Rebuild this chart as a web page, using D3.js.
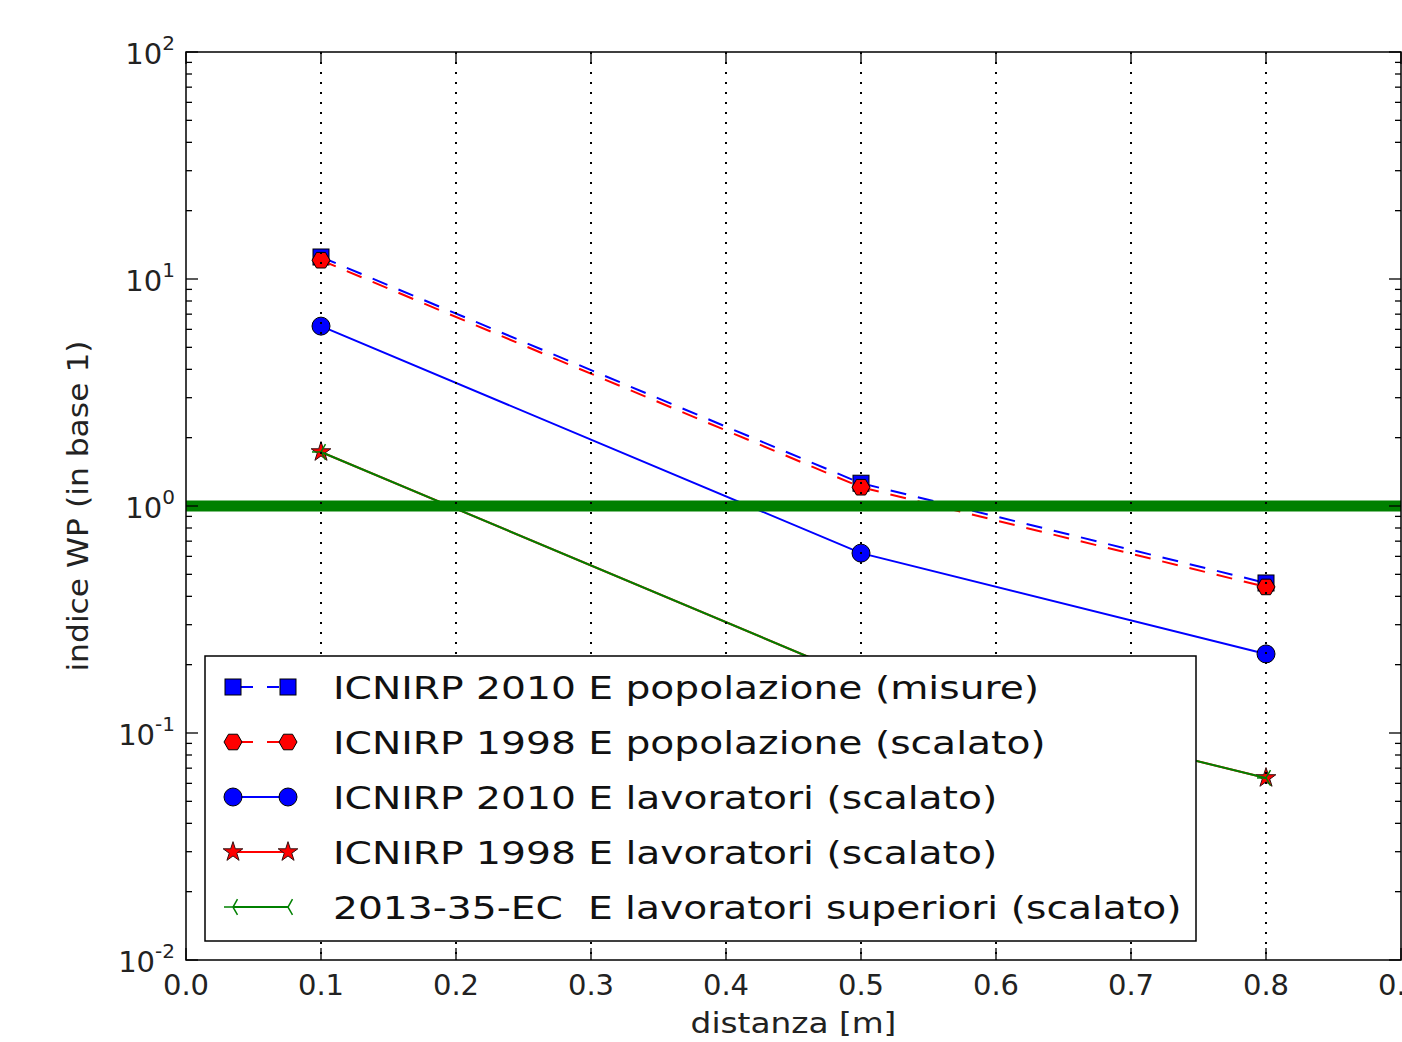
<!DOCTYPE html>
<html>
<head>
<meta charset="utf-8">
<script src="https://cdn.jsdelivr.net/npm/d3@7"></script>
<style>
  body { margin: 0; background: #fff; }
  svg { display: block; font-family: "DejaVu Sans", sans-serif; }
  text { white-space: pre; }
</style>
</head>
<body>
<svg id="chart" width="1402" height="1042"></svg>
<script>
// ---- data ----
const distances = [0.1, 0.5, 0.8];
const icnirp2010Pop = [12.5, 1.26, 0.458];
const icnirp1998Pop = [12.1, 1.21, 0.44];
const icnirp2010Lav = [6.2, 0.62, 0.223];
const icnirp1998Lav = [1.73, 0.173, 0.0634];
const ec2013Lav = [1.73, 0.173, 0.0634];
const xTicks = [0.0, 0.1, 0.2, 0.3, 0.4, 0.5, 0.6, 0.7, 0.8, 0.9];
const yTickExps = [-2, -1, 0, 1, 2];
const threshold = 1;
const seriesNames = [
  "ICNIRP 2010 E popolazione (misure)",
  "ICNIRP 1998 E popolazione (scalato)",
  "ICNIRP 2010 E lavoratori (scalato)",
  "ICNIRP 1998 E lavoratori (scalato)",
  "2013-35-EC  E lavoratori superiori (scalato)"
];
const xLabel = "distanza [m]";
const yLabel = "indice WP (in base 1)";

// ---- layout ----
const svg = d3.select("#chart");
const L = 186, R = 1401, T = 52, B = 960;
const x = d3.scaleLinear().domain([0, 0.9]).range([L, R]);
const y = d3.scaleLog().domain([0.01, 100]).range([B, T]);

const series = [
  {name: seriesNames[0], vals: icnirp2010Pop, color: "#0000ff", dash: "16,12", marker: "square"},
  {name: seriesNames[1], vals: icnirp1998Pop, color: "#ff0000", dash: "16,12", marker: "hexagon"},
  {name: seriesNames[2], vals: icnirp2010Lav, color: "#0000ff", dash: null, marker: "circle"},
  {name: seriesNames[3], vals: icnirp1998Lav, color: "#ff0000", dash: null, marker: "star"},
  {name: seriesNames[4], vals: ec2013Lav, color: "#008000", dash: null, marker: "tri"}
];

function drawMarker(g, type, cx, cy, color) {
  if (type === "square") {
    g.append("rect").attr("x", cx - 8).attr("y", cy - 8).attr("width", 16).attr("height", 16)
      .attr("fill", color).attr("stroke", "#000").attr("stroke-width", 1);
  } else if (type === "hexagon") {
    const r = 9;
    const pts = d3.range(6).map(i => { const a = Math.PI / 3 * i; return [cx + r * Math.cos(a), cy + r * Math.sin(a)]; });
    g.append("polygon").attr("points", pts.map(p => p.join(",")).join(" "))
      .attr("fill", color).attr("stroke", "#000").attr("stroke-width", 1);
  } else if (type === "circle") {
    g.append("circle").attr("cx", cx).attr("cy", cy).attr("r", 9)
      .attr("fill", color).attr("stroke", "#000").attr("stroke-width", 1);
  } else if (type === "star") {
    g.append("path").attr("d", d3.symbol(d3.symbolStar, 120)()).attr("transform", `translate(${cx},${cy})`)
      .attr("fill", color).attr("stroke", "#331111").attr("stroke-width", 1);
  } else if (type === "tri") {
    const r = 9;
    const angs = [Math.PI, -Math.PI / 3, Math.PI / 3];
    angs.forEach(a => {
      g.append("line").attr("x1", cx).attr("y1", cy)
        .attr("x2", cx + r * Math.cos(a)).attr("y2", cy + r * Math.sin(a))
        .attr("stroke", color).attr("stroke-width", 1.5);
    });
  }
}

const plot = svg.append("g");
plot.append("defs").append("clipPath").attr("id", "clip")
  .append("rect").attr("x", L).attr("y", T).attr("width", R - L).attr("height", B - T);
const inner = plot.append("g").attr("clip-path", "url(#clip)");

const line = d3.line().x((d, i) => x(distances[i])).y(d => y(d));
series.forEach(s => {
  inner.append("path").datum(s.vals).attr("d", line).attr("fill", "none")
    .attr("stroke", s.color).attr("stroke-width", 2)
    .attr("stroke-dasharray", s.dash);
  const mg = inner.append("g");
  s.vals.forEach((v, i) => drawMarker(mg, s.marker, x(distances[i]), y(v), s.color));
});

// threshold line
inner.append("line").attr("x1", L).attr("x2", R).attr("y1", y(threshold)).attr("y2", y(threshold))
  .attr("stroke", "#008000").attr("stroke-width", 11);

// vertical dotted grid
inner.selectAll(".grid").data(xTicks.filter(t => t > 0 && t < 0.9)).enter().append("line")
  .attr("x1", d => x(d)).attr("x2", d => x(d)).attr("y1", T).attr("y2", B)
  .attr("stroke", "#000").attr("stroke-width", 2).attr("stroke-dasharray", "2,8");

// ticks
const tickG = svg.append("g").attr("stroke", "#000").attr("stroke-width", 1.3);
xTicks.forEach(t => {
  tickG.append("line").attr("x1", x(t)).attr("x2", x(t)).attr("y1", B).attr("y2", B - 12);
  tickG.append("line").attr("x1", x(t)).attr("x2", x(t)).attr("y1", T).attr("y2", T + 12);
});
yTickExps.forEach(e => {
  const yy = y(Math.pow(10, e));
  tickG.append("line").attr("x1", L).attr("x2", L + 12).attr("y1", yy).attr("y2", yy);
  tickG.append("line").attr("x1", R).attr("x2", R - 12).attr("y1", yy).attr("y2", yy);
  if (e < 2) {
    for (let m = 2; m <= 9; m++) {
      const ym = y(m * Math.pow(10, e));
      tickG.append("line").attr("x1", L).attr("x2", L + 6).attr("y1", ym).attr("y2", ym);
      tickG.append("line").attr("x1", R).attr("x2", R - 6).attr("y1", ym).attr("y2", ym);
    }
  }
});

// frame
svg.append("rect").attr("x", L).attr("y", T).attr("width", R - L).attr("height", B - T)
  .attr("fill", "none").attr("stroke", "#000").attr("stroke-width", 1.5);

// tick labels
svg.append("g").selectAll("text").data(xTicks).enter().append("text")
  .attr("x", d => x(d)).attr("y", B + 35).attr("text-anchor", "middle")
  .attr("font-size", 29).attr("fill", "#222").text(d => d.toFixed(1));

yTickExps.forEach(e => {
  const t = svg.append("text").attr("x", L - 11).attr("y", y(Math.pow(10, e)) + 12)
    .attr("text-anchor", "end").attr("font-size", 29).attr("fill", "#222");
  t.append("tspan").text("10");
  t.append("tspan").attr("dy", -14).attr("font-size", 20).text(String(e));
});

// axis labels (glyphs slightly wide in the reference)
svg.append("text").attr("transform", `translate(${x(0.45)},1033) scale(1.17,1)`)
  .attr("text-anchor", "middle").attr("font-size", 28).attr("fill", "#222").text(xLabel);
svg.append("text").attr("transform", `translate(88,${(T + B) / 2}) rotate(-90) scale(1.12,1)`)
  .attr("text-anchor", "middle").attr("font-size", 28).attr("fill", "#222").text(yLabel);

// legend
const lg = svg.append("g");
lg.append("rect").attr("x", 205).attr("y", 656).attr("width", 991).attr("height", 285)
  .attr("fill", "#fff").attr("stroke", "#000").attr("stroke-width", 1.5);
series.forEach((s, i) => {
  const yy = 687 + i * 55;
  lg.append("line").attr("x1", 233).attr("x2", 288).attr("y1", yy).attr("y2", yy)
    .attr("stroke", s.color).attr("stroke-width", 2)
    .attr("stroke-dasharray", s.dash ? "12,14" : null)
    .attr("stroke-dashoffset", s.dash ? -8 : null);
  drawMarker(lg, s.marker, 233, yy, s.color);
  drawMarker(lg, s.marker, 288, yy, s.color);
  lg.append("text").attr("transform", `translate(333,${yy + 12}) scale(1.225,1)`)
    .attr("font-size", 32).attr("fill", "#111").text(s.name);
});
</script>
</body>
</html>
